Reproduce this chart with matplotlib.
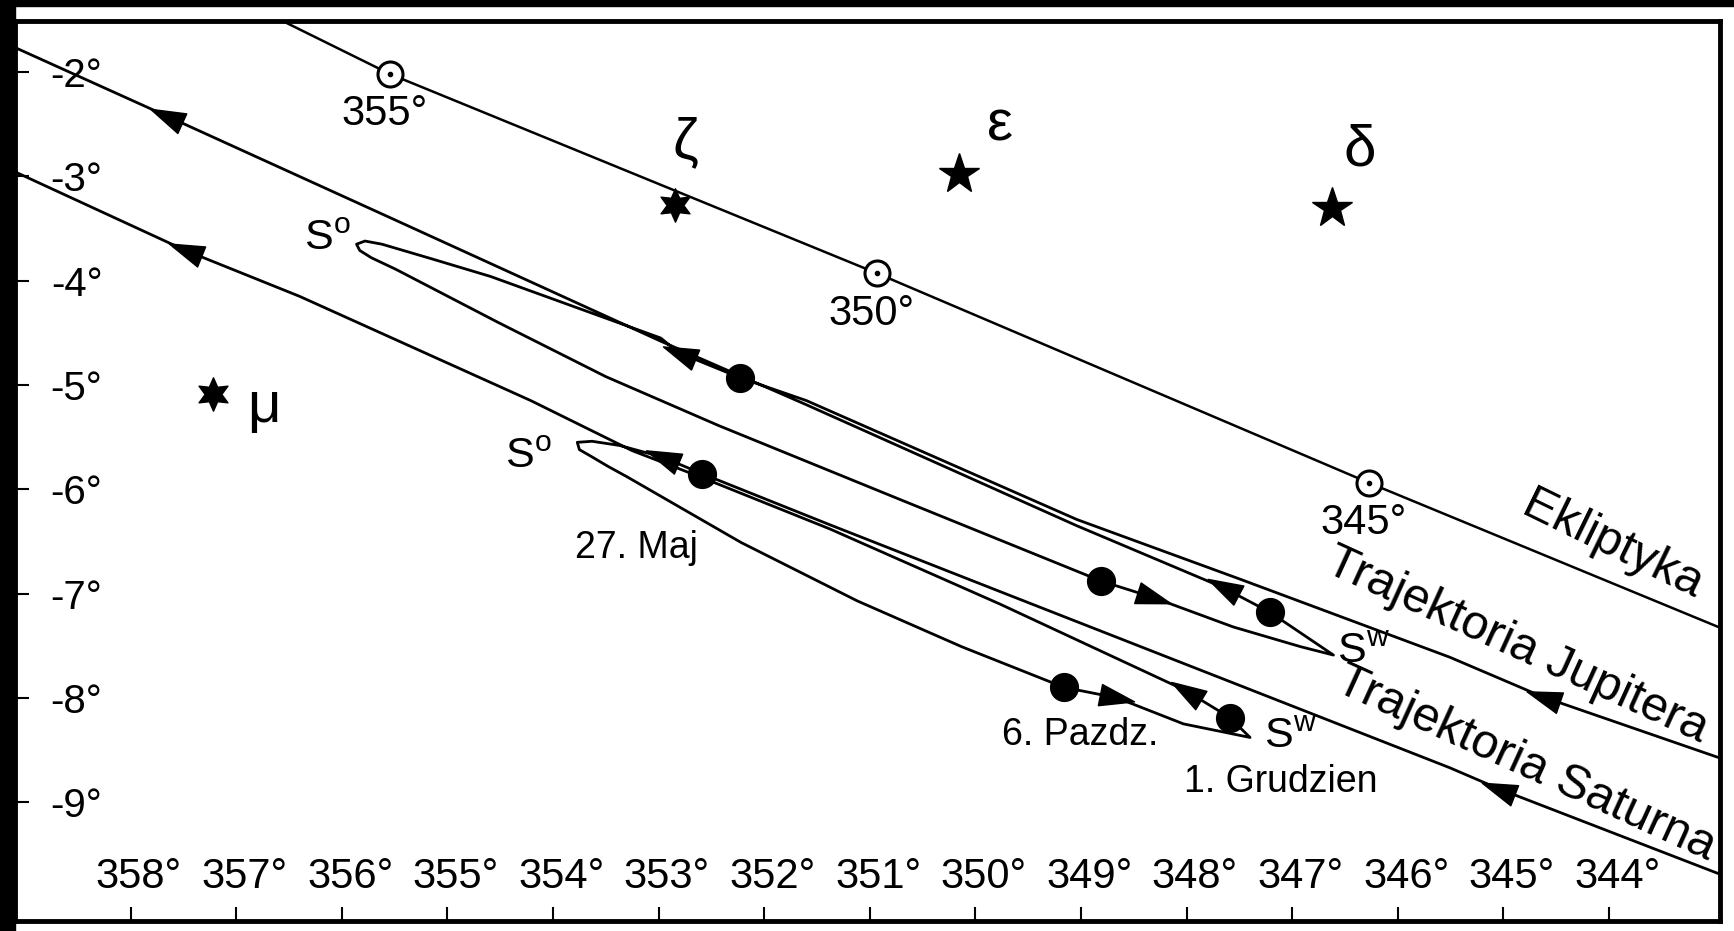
import numpy as np
import matplotlib.pyplot as plt
from matplotlib.markers import MarkerStyle
from matplotlib.path import Path
from matplotlib.transforms import Affine2D, ScaledTranslation
from matplotlib.patches import Rectangle

plt.rcParams['font.family'] = ['Liberation Sans', 'DejaVu Sans']
plt.rcParams['mathtext.fontset'] = 'custom'
plt.rcParams['mathtext.rm'] = 'Liberation Sans'

# axis ticks (RA / Dec in degrees)
x_ticks = [358, 357, 356, 355, 354, 353, 352, 351, 350, 349, 348, 347, 346, 345, 344]
y_ticks = [-2, -3, -4, -5, -6, -7, -8, -9]

# ecliptic line and its longitude marks
ecl_ra = [356.62, 355.54, 350.93, 346.27, 342.80]
ecl_dec = [-1.48, -2.02, -3.93, -5.94, -7.39]
ecl_mark_ra = [355.54, 350.93, 346.27]
ecl_mark_dec = [-2.02, -3.93, -5.94]
ecl_mark_lab = ['355°', '350°', '345°']

# Jupiter path, in time order (prograde -> S° -> retrograde -> Sw -> prograde)
jup_ra = [342.80, 344.63, 345.51, 347.50, 349.04, 351.60, 352.23, 352.81, 352.98,
          354.59, 355.15, 355.62, 355.78, 355.86,
          355.83, 355.72, 355.49, 354.52, 353.50, 352.43, 350.71, 348.81, 348.31,
          347.56, 346.92, 346.61,
          347.21, 347.66, 349.04, 351.60, 352.98, 355.49, 357.66, 359.30]
jup_dec = [-8.63, -7.99, -7.61, -6.86, -6.29, -5.15, -4.93, -4.69, -4.55,
           -3.96, -3.79, -3.65, -3.62, -3.65,
           -3.71, -3.78, -3.89, -4.40, -4.92, -5.39, -6.10, -6.88, -7.04,
           -7.32, -7.51, -7.59,
           -7.18, -6.94, -6.35, -5.19, -4.58, -3.42, -2.42, -1.67]

# Saturn path, in time order
sat_ra = [342.80, 345.05, 345.51, 347.40, 349.77, 351.38, 352.59, 352.97, 353.37,
          353.63, 353.77,
          353.75, 353.63, 353.48, 353.30, 352.22, 351.12, 350.13, 349.16, 348.66,
          348.03, 347.40,
          347.59, 348.01, 349.77, 351.38, 352.61, 353.25, 354.21, 356.40, 357.48, 359.30]
sat_dec = [-9.75, -8.87, -8.67, -7.92, -6.98, -6.34, -5.85, -5.69, -5.58,
           -5.54, -5.55,
           -5.62, -5.69, -5.78, -5.88, -6.51, -7.07, -7.51, -7.90, -8.00,
           -8.25, -8.38,
           -8.19, -7.93, -7.10, -6.38, -5.88, -5.63, -5.15, -4.15, -3.71, -2.86]

# direction arrows on the paths
jup_arrow_ra = [344.63, 352.81, 348.31, 347.66, 357.66]
jup_arrow_dec = [-7.99, -4.69, -7.04, -6.94, -2.42]
sat_arrow_ra = [345.05, 352.97, 348.66, 348.01, 357.48]
sat_arrow_dec = [-8.87, -5.69, -8.00, -7.93, -3.71]

# conjunction positions
conj_dates = ['27. Maj', '6. Pazdz.', '1. Grudzien']
jup_conj_ra = [352.23, 348.81, 347.21]
jup_conj_dec = [-4.93, -6.88, -7.18]
sat_conj_ra = [352.59, 349.16, 347.59]
sat_conj_dec = [-5.85, -7.90, -8.19]

# stars of Pisces
star_names = ['ζ', 'ε', 'δ', 'μ']
star_ra = [352.84, 350.16, 346.62, 357.22]
star_dec = [-3.27, -2.98, -3.30, -5.09]
star_points = [6, 5, 5, 6]

# ---------------------------------------------------------------
fig = plt.figure(figsize=(17.34, 9.31), dpi=100)
fig.patches.append(Rectangle((0, 0), 15 / 1734, 1, transform=fig.transFigure,
                             color='black', zorder=0))
fig.patches.append(Rectangle((0, 1 - 6 / 931), 1, 6 / 931, transform=fig.transFigure,
                             color='black', zorder=0))
ax = fig.add_axes([15 / 1734, 10 / 931, 1705 / 1734, 900 / 931])
ax.set_xlim(359.094, 342.95)
ax.set_ylim(-10.14, -1.51)

for s in ax.spines.values():
    s.set_linewidth(3.5)

ax.set_xticks(x_ticks, labels=[f'{v}°' for v in x_ticks])
ax.set_yticks(y_ticks, labels=[f'{v}°' for v in y_ticks])
ax.tick_params(axis='x', direction='in', length=10, width=1.5, pad=-46, labelsize=30)
ax.tick_params(axis='y', direction='in', length=10, width=1.5, pad=-63, labelsize=29)
shift = ScaledTranslation(6 / 72, 0, fig.dpi_scale_trans)
for lab in ax.get_xticklabels():
    lab.set_transform(lab.get_transform() + shift)

# ecliptic
ax.plot(ecl_ra, ecl_dec, color='black', lw=1.8, zorder=2)
ax.plot(ecl_mark_ra, ecl_mark_dec, 'o', ms=18, mfc='white', mec='black', mew=2.2, zorder=5)
ax.plot(ecl_mark_ra, ecl_mark_dec, 'o', ms=3, color='black', zorder=6)
for r, d, t in zip(ecl_mark_ra, ecl_mark_dec, ecl_mark_lab):
    ax.annotate(t, (r, d), xytext=(-4, -29), textcoords='offset points',
                ha='center', va='center', fontsize=30)

# planet paths
ax.plot(jup_ra, jup_dec, color='black', lw=2.0, solid_joinstyle='round', zorder=3)
ax.plot(sat_ra, sat_dec, color='black', lw=2.0, solid_joinstyle='round', zorder=3)

tri = Path([(1, 0), (-1, 0.62), (-1, -0.62), (1, 0)],
           [Path.MOVETO, Path.LINETO, Path.LINETO, Path.CLOSEPOLY])


def path_angle(r, d, pra, pdec):
    pts = ax.transData.transform(np.column_stack([pra, pdec]))
    p = ax.transData.transform((r, d))
    a, b = pts[:-1], pts[1:]
    ab = b - a
    t = np.clip(((p - a) * ab).sum(1) / (ab ** 2).sum(1), 0, 1)
    dist = np.hypot(*(a + ab * t[:, None] - p).T)
    i = np.argmin(dist)
    return np.degrees(np.arctan2(ab[i, 1], ab[i, 0]))


for ara, adec, pra, pdec in [(jup_arrow_ra, jup_arrow_dec, jup_ra, jup_dec),
                             (sat_arrow_ra, sat_arrow_dec, sat_ra, sat_dec)]:
    for r, d in zip(ara, adec):
        ang = path_angle(r, d, pra, pdec)
        m = MarkerStyle(tri, transform=Affine2D().rotate_deg(ang))
        ax.plot([r], [d], ls='none', marker=m, ms=25, color='black', zorder=4)

ax.plot(jup_conj_ra, jup_conj_dec, 'o', ms=20, color='black', zorder=4)
ax.plot(sat_conj_ra, sat_conj_dec, 'o', ms=20, color='black', zorder=4)

# stationary points
ax.text(356.14, -3.60, r'S$^{\rm o}$', fontsize=31, ha='center', va='center')
ax.text(354.23, -5.69, r'S$^{\rm o}$', fontsize=31, ha='center', va='center')
ax.text(346.33, -7.56, r'S$^{\rm w}$', fontsize=31, ha='center', va='center')
ax.text(347.02, -8.38, r'S$^{\rm w}$', fontsize=31, ha='center', va='center')

# conjunction dates
date_pos = [(353.21, -6.56), (349.01, -8.36), (347.11, -8.81)]
for (x, y), t in zip(date_pos, conj_dates):
    ax.text(x, y, t, fontsize=27, ha='center', va='center')

# stars
star_off = [(7, 44), (30, 35), (20, 41), (37, -9)]
six = Path.unit_regular_star(6, 0.5)
for r, d, n, k, off in zip(star_ra, star_dec, star_names, star_points, star_off):
    if k == 6:
        ax.plot([r], [d], ls='none', marker=six, ms=24, color='black', zorder=6)
    else:
        ax.plot([r], [d], ls='none', marker='*', ms=30, color='black', zorder=6)
    ax.annotate(n, (r, d), xytext=off, textcoords='offset points',
                ha='center', va='center', fontsize=42)

# line names
ax.text(343.97, -6.54, 'Ekliptyka', fontsize=35, rotation=-26,
        rotation_mode='anchor', ha='center', va='center')
ax.text(344.87, -7.50, 'Trajektoria Jupitera', fontsize=35, rotation=-24.5,
        rotation_mode='anchor', ha='center', va='center')
ax.text(344.79, -8.63, 'Trajektoria Saturna', fontsize=35, rotation=-24.5,
        rotation_mode='anchor', ha='center', va='center')

fig.savefig('out.png', dpi=100)
